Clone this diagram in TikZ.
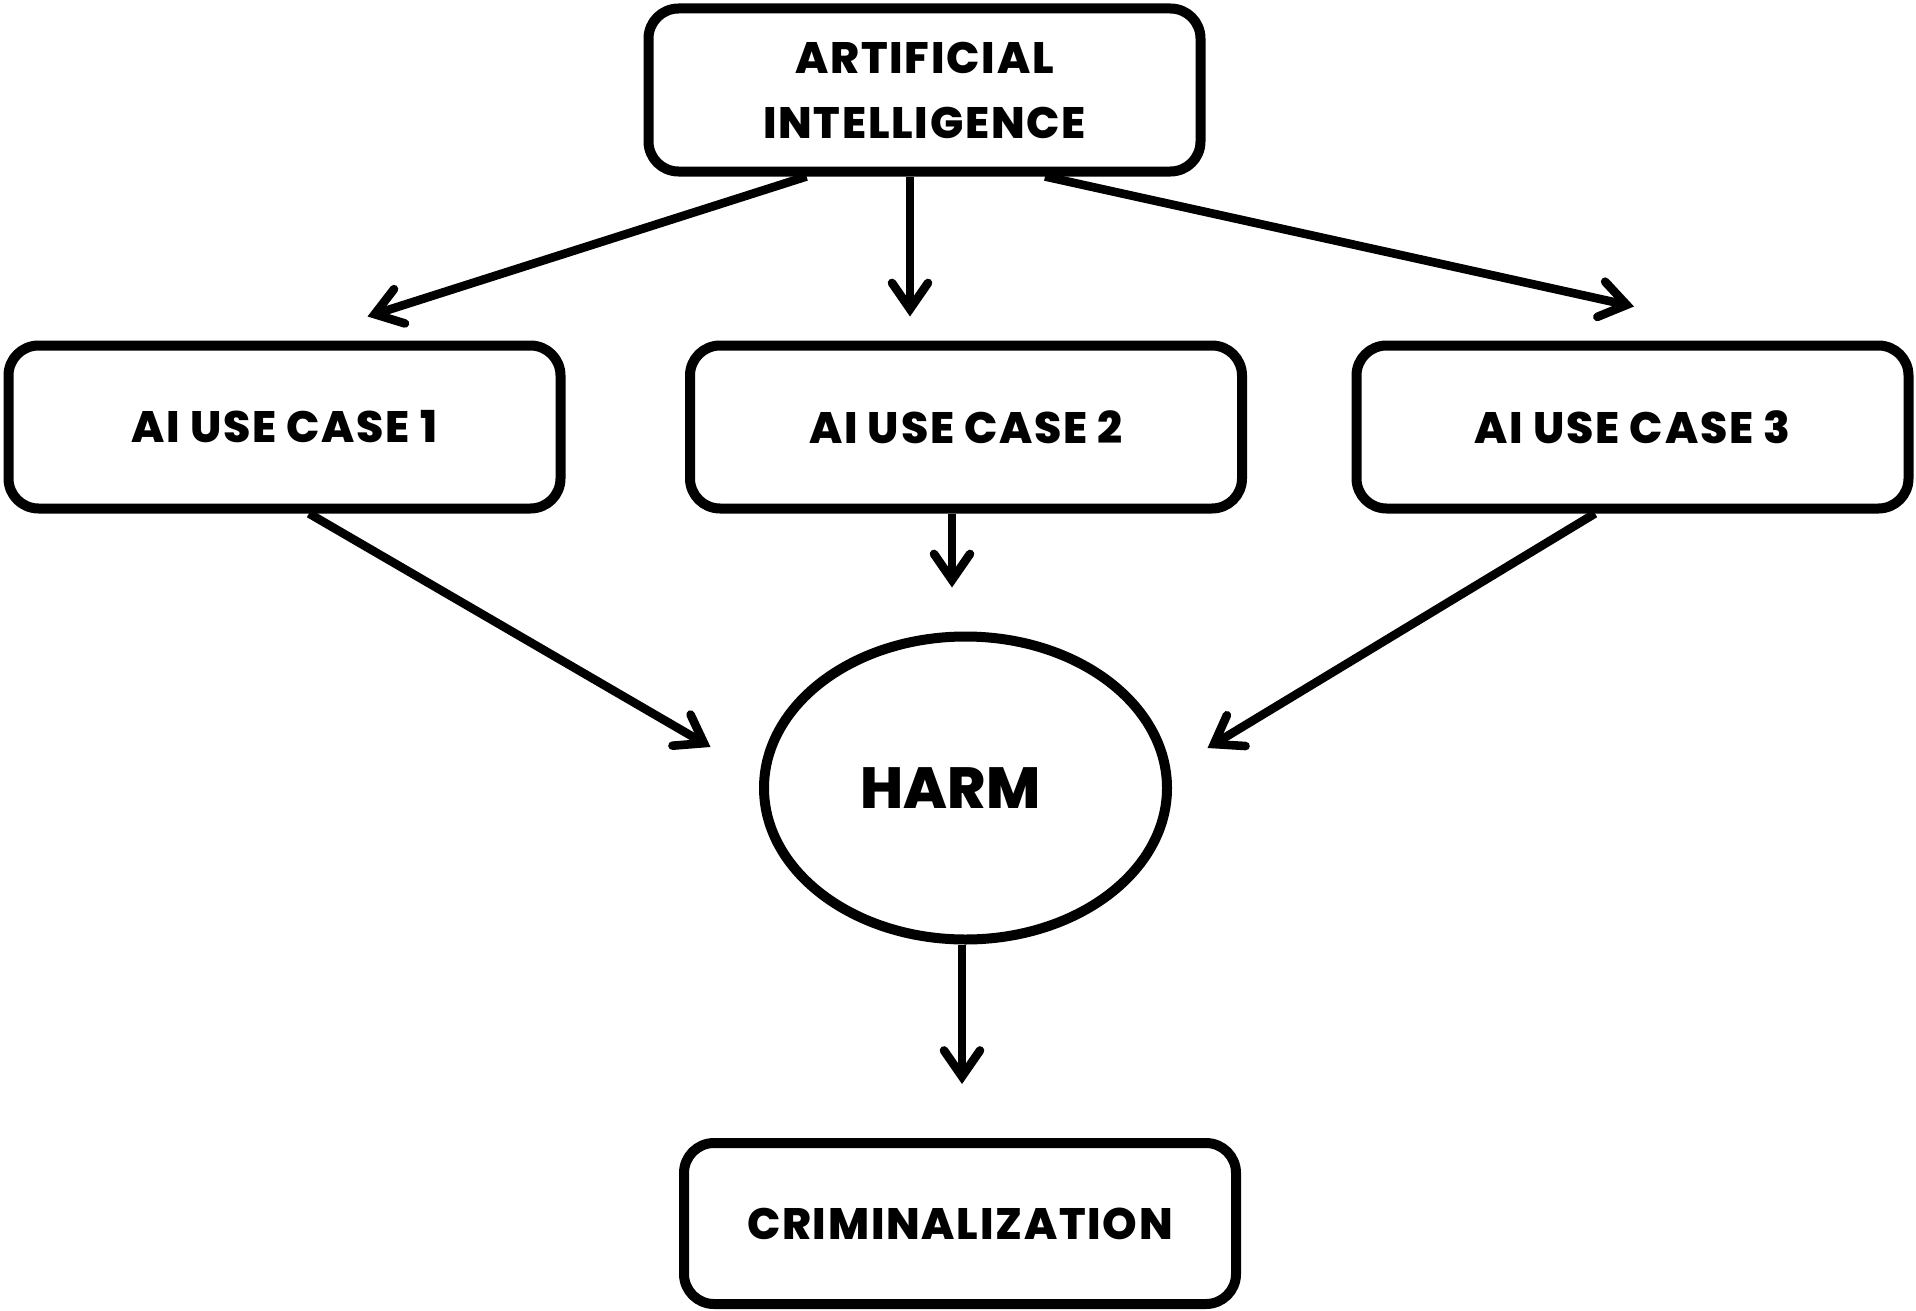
\documentclass[tikz,border=0pt]{standalone}
\usepackage{fontspec}
\setmainfont{Poppins}[BoldFont={Poppins ExtraBold}]
\usetikzlibrary{arrows.meta,calc,shapes.geometric}
\begin{document}
\begin{tikzpicture}[x=0.5pt,y=-0.5pt,
  box/.style={draw,line width=5pt,rounded corners=15pt,minimum width=276pt,minimum height=81.5pt,inner sep=0pt,align=center,
    font=\fontsize{22}{32.5}\selectfont\bfseries\addfontfeatures{LetterSpace=4}},
  oval/.style={draw,line width=5pt,ellipse,minimum width=201.5pt,minimum height=151.5pt,inner sep=0pt,font=\fontsize{29}{34}\selectfont\bfseries},
  link/.style={line width=4.3pt,-{Straight Barb[length=13pt,width=18pt,line width=4.3pt,line cap=round]}}]
\useasboundingbox (0,0) rectangle (1916,1311);
\node[box] (ai) at (924.5,90) {ARTIFICIAL\\INTELLIGENCE};
\node[box] (uc1) at (284.5,427) {AI USE CASE 1};
\node[box] (uc2) at (966,427) {AI USE CASE 2};
\node[box] (uc3) at (1632.5,427) {AI USE CASE 3};
\node[oval] (harm) at (965.5,788) {\hspace*{-15pt}HARM};
\node[box,minimum height=80.5pt] (crim) at (960,1223.5) {CRIMINALIZATION};
\draw[link] ($(ai.south)+(-118,0)$) -- ($(uc1.north)+(83,-24)$);
\draw[link] ($(ai.south)+(-14.5,0)$) -- ($(uc2.north)+(-56,-24)$);
\draw[link] ($(ai.south)+(120.5,0)$) -- ($(uc3.north)+(1.5,-34)$);
\draw[link] ($(uc1.south)+(24.5,0)$) -- ($(harm.west)+(-48.5,-41)$);
\draw[link] ($(uc2.south)+(-14,0)$) -- ($(harm.north)+(-13.5,-44)$);
\draw[link] ($(uc3.south)+(-37.5,0)$) -- ($(harm.east)+(35.5,-40)$);
\draw[link] ($(harm.south)+(-3.5,0)$) -- ($(crim.north)+(2,-54)$);
\end{tikzpicture}
\end{document}
